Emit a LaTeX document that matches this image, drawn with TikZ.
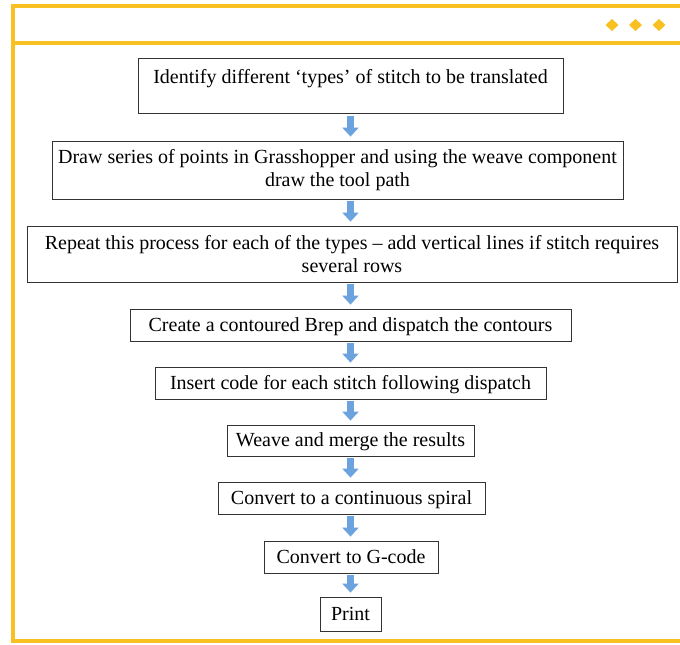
\documentclass[tikz,border=0pt]{standalone}
\usepackage{fontspec}
\setmainfont{Liberation Serif}
\usetikzlibrary{arrows.meta}
\definecolor{frameyellow}{HTML}{F8C020}
\definecolor{arrowblue}{HTML}{6CA3DE}
\begin{document}
\begin{tikzpicture}[x=1pt,y=-1pt,
    stepbox/.style={draw=black!80, line width=0.8pt, align=center, inner sep=3pt, font=\fontsize{20}{23}\selectfont},
    onerow/.style={stepbox, text height=17pt, text depth=5pt},
    flow/.style={draw=arrowblue, line width=7pt, -{Triangle[width=16pt,length=9pt]}, shorten <=2pt, shorten >=4pt}]
    \useasboundingbox (0,0) rectangle (680,645);
    % frame
    \draw[frameyellow, line width=4pt] (680,6)--(13,6)--(13,641)--(680,641);
    \draw[frameyellow, line width=4pt] (13,42.5)--(680,42.5);
    \foreach \x in {612,635.5,659}
        \fill[frameyellow] (\x-6.5,25)--(\x,19)--(\x+6.5,25)--(\x,31)--cycle;
    % steps
    \node[stepbox, minimum width=425pt, text height=22pt, text depth=27pt] (s1) at (350.5,86) {Identify different ‘types’ of stitch to be translated};
    \node[stepbox, minimum width=571pt, minimum height=58pt] (s2) at (337.5,170) {Draw series of points in Grasshopper and using the weave component\\draw the tool path};
    \node[stepbox, minimum width=650pt, minimum height=56pt] (s3) at (352,254) {Repeat this process for each of the types -- add vertical lines if stitch requires\\several rows};
    \node[onerow, minimum width=441pt, minimum height=32pt] (s4) at (350.5,325) {Create a contoured Brep and dispatch the contours};
    \node[onerow, minimum width=391pt, minimum height=32pt] (s5) at (350.5,383) {Insert code for each stitch following dispatch};
    \node[onerow, minimum width=247pt, minimum height=31pt] (s6) at (350.5,440.5) {Weave and merge the results};
    \node[onerow, minimum width=267pt, minimum height=32pt] (s7) at (351.5,498) {Convert to a continuous spiral};
    \node[onerow, minimum width=174pt, minimum height=32pt] (s8) at (351,557) {Convert to G-code};
    \node[onerow, minimum width=61pt, minimum height=34pt] (s9) at (350.5,614) {Print};
    % arrows
    \foreach \a/\b in {s1/s2,s2/s3,s3/s4,s4/s5,s5/s6,s6/s7,s7/s8,s8/s9}
        \draw[flow] (\a.south -| 350.5,0) -- (\b.north -| 350.5,0);
\end{tikzpicture}
\end{document}
